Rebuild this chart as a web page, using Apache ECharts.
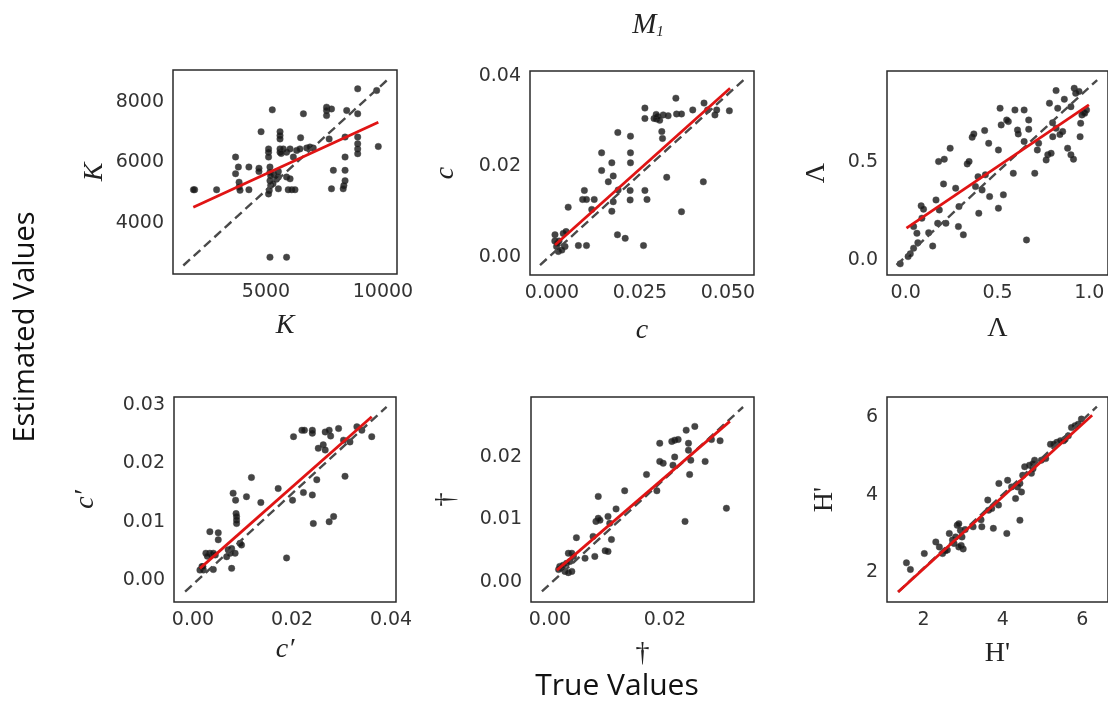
<!DOCTYPE html>
<html>
<head>
<meta charset="utf-8">
<script src="https://cdn.jsdelivr.net/npm/echarts@6/dist/echarts.min.js"></script>
<style>
html,body{margin:0;padding:0;background:#fff;}
#chart{width:1108px;height:706px;}
</style>
</head>
<body>
<div id="chart"></div>
<script>
// ---------------- DATA ----------------
const K_points = [[1950,5100],[1900,5100],[2890,5100],[3700,6180],[3700,5630],[3820,5850],[3850,5350],[3850,5190],[3890,5080],[4270,5850],[4270,5100],[4700,5810],[4700,5700],[4790,7020],[5170,5850],[5170,5680],[5170,5400],[5200,5240],[5140,5075],[5110,4960],[5270,7740],[5110,6450],[5110,6340],[5110,6180],[5600,7020],[5600,6890],[5600,6780],[5600,6450],[5600,6340],[5530,5700],[5530,5520],[5530,5130],[5740,6450],[5880,6340],[6030,6450],[5880,5520],[6030,5460],[5950,5100],[6100,5100],[6240,5100],[5170,2870],[5880,2870],[6170,6180],[6310,6400],[6480,6820],[6450,6450],[6600,7610],[6740,6480],[6880,6510],[7020,6480],[7590,7830],[7590,7720],[7590,7550],[7800,7770],[7700,6780],[7880,5740],[7800,5130],[8380,6180],[8380,5740],[8380,5400],[8330,5240],[8300,5130],[8450,7720],[8380,6840],[8920,8435],[8920,7610],[8920,6840],[8920,6620],[8920,6450],[8920,6290],[9730,8380],[9800,6530],[5350,5600],[5450,5450],[5300,5300],[5650,6300],[5200,5560]];
const K_fit = [[1894,4523],[9802,7333]];
const K_diag = [[1466,2595],[10159,8711]];
const K_xticks = [5000,10000];
const K_yticks = [4000,6000,8000];

const c_points = [[0.00085,0.0049],[0.0013,0.0023],[0.0008,0.0035],[0.0018,0.0012],[0.002,0.0035],[0.0032,0.0052],[0.0037,0.0023],[0.004,0.0056],[0.0028,0.0015],[0.0015,0.003],[0.0046,0.011],[0.0075,0.0025],[0.0098,0.0025],[0.0092,0.0147],[0.0087,0.0127],[0.0098,0.0127],[0.012,0.0127],[0.0113,0.0105],[0.0141,0.023],[0.0141,0.0191],[0.017,0.0208],[0.0174,0.0179],[0.016,0.0166],[0.017,0.0101],[0.0174,0.0122],[0.0187,0.0275],[0.0188,0.0148],[0.0186,0.0049],[0.0208,0.0041],[0.0223,0.0267],[0.0223,0.023],[0.0223,0.0208],[0.0222,0.0147],[0.0222,0.0126],[0.026,0.0025],[0.0264,0.0147],[0.027,0.0127],[0.0264,0.0329],[0.0264,0.0306],[0.0297,0.0305],[0.0306,0.0302],[0.0301,0.031],[0.0316,0.0314],[0.033,0.0312],[0.0312,0.0277],[0.0314,0.0262],[0.0326,0.0176],[0.0352,0.0351],[0.0354,0.0316],[0.0368,0.0316],[0.0368,0.01],[0.04,0.0325],[0.0432,0.034],[0.043,0.0166],[0.0463,0.0314],[0.0468,0.0325],[0.0504,0.0323],[0.0442,0.0325],[0.029,0.0306],[0.0296,0.0315]];
const c_fit = [[0.00085,0.00265],[0.0506,0.0373]];
const c_diag = [[-0.0034,-0.0018],[0.0544,0.0391]];
const c_xticks = [0.000,0.025,0.050];
const c_yticks = [0.00,0.02,0.04];

const lam_points = [[-0.03,-0.02],[0.013,0.017],[0.025,0.031],[0.043,0.06],[0.066,0.088],[0.061,0.136],[0.043,0.17],[0.084,0.276],[0.097,0.259],[0.088,0.213],[0.147,0.071],[0.125,0.139],[0.165,0.306],[0.183,0.255],[0.174,0.187],[0.206,0.388],[0.179,0.502],[0.21,0.514],[0.242,0.57],[0.219,0.187],[0.272,0.366],[0.287,0.17],[0.314,0.128],[0.29,0.272],[0.335,0.49],[0.345,0.502],[0.362,0.626],[0.371,0.643],[0.43,0.66],[0.38,0.374],[0.394,0.425],[0.398,0.238],[0.416,0.357],[0.434,0.434],[0.452,0.595],[0.457,0.323],[0.505,0.264],[0.505,0.561],[0.514,0.774],[0.532,0.332],[0.52,0.689],[0.559,0.706],[0.55,0.714],[0.595,0.765],[0.586,0.442],[0.609,0.663],[0.613,0.643],[0.645,0.765],[0.658,0.102],[0.67,0.714],[0.67,0.667],[0.645,0.604],[0.703,0.442],[0.724,0.595],[0.717,0.561],[0.765,0.51],[0.774,0.537],[0.792,0.544],[0.783,0.8],[0.819,0.864],[0.828,0.774],[0.819,0.672],[0.801,0.629],[0.864,0.82],[0.855,0.655],[0.882,0.57],[0.9,0.536],[0.914,0.514],[0.9,0.782],[0.918,0.876],[0.926,0.85],[0.944,0.86],[0.953,0.697],[0.96,0.74],[0.968,0.752],[0.975,0.748],[0.985,0.765],[0.95,0.629],[0.8,0.7],[0.84,0.64]];
const lam_fit = [[0.004,0.162],[0.998,0.791]];
const lam_diag = [[-0.05,-0.026],[1.043,0.918]];
const lam_xticks = [0.0,0.5,1.0];
const lam_yticks = [0.0,0.5];

const cp_points = [[0.0014,0.0017],[0.0018,0.0023],[0.0021,0.0017],[0.002,0.0023],[0.0034,0.0046],[0.0038,0.0043],[0.0041,0.0046],[0.0045,0.0043],[0.0034,0.0083],[0.0051,0.0081],[0.0051,0.0069],[0.0041,0.0018],[0.0071,0.0052],[0.0075,0.0046],[0.0078,0.0054],[0.0085,0.0046],[0.0068,0.0040],[0.0078,0.002],[0.0081,0.0149],[0.0086,0.0137],[0.0087,0.0114],[0.0088,0.0109],[0.0088,0.0103],[0.0088,0.0097],[0.0095,0.0063],[0.0098,0.006],[0.0108,0.0143],[0.0118,0.0176],[0.0137,0.0133],[0.0172,0.0157],[0.0189,0.0038],[0.0201,0.0137],[0.0203,0.0246],[0.022,0.0257],[0.0225,0.0257],[0.0241,0.0257],[0.0241,0.0252],[0.0223,0.015],[0.0241,0.0146],[0.0243,0.0097],[0.025,0.0172],[0.0253,0.0226],[0.0263,0.0232],[0.0267,0.0223],[0.0267,0.0254],[0.0275,0.0257],[0.0278,0.0247],[0.0275,0.01],[0.0284,0.0109],[0.0294,0.026],[0.0307,0.0178],[0.0304,0.024],[0.0317,0.0237],[0.0331,0.0263],[0.0341,0.0257],[0.0361,0.0246],[0.0026,0.0046],[0.0029,0.0041]];
const cp_fit = [[0.0014,0.002],[0.0361,0.028]];
const cp_diag = [[-0.0016,-0.002],[0.0391,0.0297]];
const cp_xticks = [0.00,0.02,0.04];
const cp_yticks = [0.00,0.01,0.02,0.03];

const dag_points = [[0.0015,0.002],[0.0020,0.0022],[0.0026,0.0017],[0.0032,0.0015],[0.0038,0.0017],[0.0017,0.0025],[0.0023,0.0027],[0.0032,0.0046],[0.0038,0.0046],[0.0041,0.0041],[0.0046,0.0071],[0.0061,0.0038],[0.0078,0.0041],[0.0075,0.0073],[0.0084,0.0137],[0.008,0.0097],[0.0084,0.0102],[0.0087,0.0099],[0.0096,0.005],[0.0101,0.0049],[0.0101,0.0105],[0.0104,0.0094],[0.0107,0.0068],[0.0115,0.0117],[0.013,0.0146],[0.0168,0.0172],[0.0186,0.0146],[0.0191,0.0222],[0.0197,0.019],[0.0191,0.0193],[0.0212,0.0225],[0.0217,0.0227],[0.0223,0.0228],[0.0217,0.02],[0.0214,0.0187],[0.0235,0.0097],[0.0237,0.0243],[0.0241,0.0222],[0.0241,0.0211],[0.0243,0.0172],[0.0252,0.0249],[0.0245,0.0195],[0.027,0.0193],[0.0281,0.0228],[0.0296,0.0226],[0.0307,0.0118],[0.0035,0.0033],[0.0029,0.0030]];
const dag_fit = [[0.0012,0.0019],[0.0313,0.0257]];
const dag_diag = [[-0.0014,-0.0015],[0.0336,0.028]];
const dag_xticks = [0.00,0.02];
const dag_yticks = [0.00,0.01,0.02];

const h_points = [[1.57,2.24],[1.67,2.07],[2.02,2.48],[2.31,2.78],[2.4,2.65],[2.48,2.48],[2.6,2.57],[2.65,3.0],[2.73,2.83],[2.77,2.74],[2.81,2.91],[2.85,3.21],[2.89,3.25],[2.93,3.08],[2.97,2.91],[2.95,2.69],[3.0,2.6],[2.89,2.65],[3.25,3.17],[3.47,3.17],[3.62,3.86],[3.64,3.6],[3.72,3.64],[3.76,3.13],[3.89,3.73],[3.9,4.29],[4.1,3.0],[4.12,4.37],[4.22,4.2],[4.32,3.9],[4.37,4.2],[4.43,4.29],[4.47,4.07],[4.43,3.34],[4.55,4.72],[4.67,4.76],[4.76,4.67],[4.8,4.89],[4.97,4.89],[5.08,4.93],[5.2,5.3],[5.28,5.3],[5.36,5.35],[5.45,5.39],[5.53,5.39],[5.57,5.43],[5.65,5.52],[5.73,5.73],[5.82,5.78],[5.9,5.82],[5.98,5.95],[4.72,4.55],[4.5,4.5],[4.76,4.8],[3.45,3.35],[2.55,2.55],[3.05,3.1]];
const h_fit = [[1.36,1.49],[6.25,6.05]];
const h_diag = [[1.36,1.49],[6.37,6.27]];
const h_xticks = [2,4,6];
const h_yticks = [2,4,6];

// ---------------- LAYOUT ----------------
const panels = [
  {pts:K_points, fit:K_fit, diag:K_diag, xt:K_xticks, yt:K_yticks, xr:[1026,10600], yr:[2314,9058], xd:0, yd:0,
   g:{left:173, top:70, width:224, height:204}, xname:'K', yname:'K', xfont:'italic', ygap:64, xgap:38},
  {pts:c_points, fit:c_fit, diag:c_diag, xt:c_xticks, yt:c_yticks, xr:[-0.00625,0.0574], yr:[-0.004,0.0411], xd:3, yd:2,
   g:{left:530, top:71, width:224, height:204}, xname:'c', yname:'c', xfont:'italic', ygap:70, xgap:42},
  {pts:lam_points, fit:lam_fit, diag:lam_diag, xt:lam_xticks, yt:lam_yticks, xr:[-0.102,1.102], yr:[-0.077,0.964], xd:1, yd:1,
   g:{left:887, top:71, width:224, height:204}, xname:'Λ', yname:'Λ', xfont:'normal', ygap:56, xgap:40},
  {pts:cp_points, fit:cp_fit, diag:cp_diag, xt:cp_xticks, yt:cp_yticks, xr:[-0.00384,0.041], yr:[-0.00377,0.0314], xd:2, yd:2,
   g:{left:174, top:397, width:222, height:205}, xname:'c′', yname:'c′', xfont:'italic', ygap:74, xgap:34},
  {pts:dag_points, fit:dag_fit, diag:dag_diag, xt:dag_xticks, yt:dag_yticks, xr:[-0.0033,0.0355], yr:[-0.0032,0.0296], xd:2, yd:2,
   g:{left:531, top:397, width:223, height:205}, xname:'†', yname:'†', xfont:'normal', ygap:70, xgap:38},
  {pts:h_points, fit:h_fit, diag:h_diag, xt:h_xticks, yt:h_yticks, xr:[1.08,6.65], yr:[1.23,6.52], xd:0, yd:0,
   g:{left:887, top:397, width:224, height:205}, xname:"H'", yname:"H'", xfont:'normal', ygap:48, xgap:38}
];

const TICK_FONT = 'DejaVu Sans';
const NAME_FONT = 'Liberation Serif';

const grid = [], xAxis = [], yAxis = [], series = [];
panels.forEach((p, i) => {
  grid.push(Object.assign({show:true, borderColor:'#2a2a2a', borderWidth:1.5, backgroundColor:'#fff', containLabel:false}, p.g));
  xAxis.push({
    type:'value', gridIndex:i, min:p.xr[0], max:p.xr[1],
    axisLine:{show:false}, axisTick:{show:false}, splitLine:{show:false},
    axisLabel:{customValues:p.xt, margin:9, color:'#333', fontFamily:TICK_FONT, fontSize:19,
      formatter:(v)=>v.toFixed(p.xd)},
    name:p.xname, nameLocation:'middle', nameGap:p.xgap,
    nameTextStyle:{fontFamily:NAME_FONT, fontStyle:p.xfont, fontSize:28, color:'#222'}
  });
  yAxis.push({
    type:'value', gridIndex:i, min:p.yr[0], max:p.yr[1],
    axisLine:{show:false}, axisTick:{show:false}, splitLine:{show:false},
    axisLabel:{customValues:p.yt, margin:9, color:'#333', fontFamily:TICK_FONT, fontSize:19,
      formatter:(v)=>v.toFixed(p.yd)},
    name:p.yname, nameLocation:'middle', nameGap:p.ygap, nameRotate:90,
    nameTextStyle:{fontFamily:NAME_FONT, fontStyle:p.xfont, fontSize:28, color:'#222'}
  });
  series.push({
    type:'scatter', xAxisIndex:i, yAxisIndex:i, data:p.pts, symbolSize:6.5,
    itemStyle:{color:'#161616', borderColor:'#444', borderWidth:0.5}, silent:true, z:2
  });
  series.push({
    type:'line', xAxisIndex:i, yAxisIndex:i, data:p.diag, symbol:'none',
    lineStyle:{color:'#4a4a4a', width:2.4, type:[9,5]}, silent:true, z:3
  });
  series.push({
    type:'line', xAxisIndex:i, yAxisIndex:i, data:p.fit, symbol:'none',
    lineStyle:{color:'#e01414', width:2.8}, silent:true, z:4
  });
});

const chart = echarts.init(document.getElementById('chart'), null, {renderer:'canvas'});
chart.setOption({
  backgroundColor:'#fff',
  animation:false,
  title:[{
    text:'{m|M}{s|1}', left:643, top:6, textAlign:'center',
    textStyle:{fontWeight:'normal', rich:{
      m:{fontFamily:NAME_FONT, fontStyle:'italic', fontWeight:'normal', fontSize:29, color:'#222'},
      s:{fontFamily:NAME_FONT, fontStyle:'italic', fontWeight:'normal', fontSize:15, color:'#222', verticalAlign:'bottom', padding:[14,0,0,0]}
    }}
  }],
  graphic:[
    {type:'text', x:26, y:327, rotation:Math.PI/2,
     style:{text:'Estimated Values', fontFamily:'Open Sans', fontSize:29, fill:'#111', align:'center', verticalAlign:'middle'}},
    {type:'text', x:617, y:686,
     style:{text:'True Values', fontFamily:'Open Sans', fontSize:30, fill:'#111', align:'center', verticalAlign:'middle'}}
  ],
  grid, xAxis, yAxis, series
});
</script>
</body>
</html>
